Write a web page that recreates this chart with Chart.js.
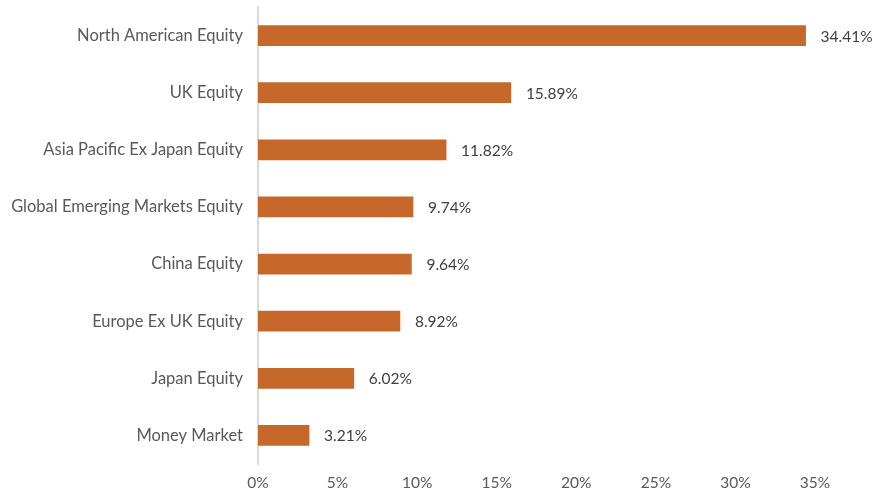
<!DOCTYPE html>
<html>
<head>
<meta charset="utf-8">
<script src="https://cdn.jsdelivr.net/npm/chart.js@4"></script>
<style>
  html, body { margin: 0; padding: 0; background: #fff; }
  #wrap { width: 875px; height: 493px; }
</style>
</head>
<body>
<div id="wrap"><canvas id="chart"></canvas></div>
<script>
// Asset allocation (% of portfolio)
const categories = [
  'North American Equity',
  'UK Equity',
  'Asia Pacific Ex Japan Equity',
  'Global Emerging Markets Equity',
  'China Equity',
  'Europe Ex UK Equity',
  'Japan Equity',
  'Money Market'
];
const weights = [34.41, 15.89, 11.82, 9.74, 9.64, 8.92, 6.02, 3.21];
const xTicks = [0, 5, 10, 15, 20, 25, 30, 35];

// draw the value label just past the end of each bar
const valueLabels = {
  id: 'valueLabels',
  afterDatasetsDraw(chart) {
    const ctx = chart.ctx;
    const meta = chart.getDatasetMeta(0);
    ctx.save();
    ctx.font = '15.5px Lato';
    ctx.fillStyle = '#404040';
    ctx.textBaseline = 'middle';
    meta.data.forEach((bar, i) => {
      ctx.fillText(weights[i].toFixed(2) + '%', bar.x + 15, bar.y + 1);
    });
    ctx.restore();
  }
};

const ctx = document.getElementById('chart').getContext('2d');
new Chart(ctx, {
  type: 'bar',
  data: {
    labels: categories,
    datasets: [
      {
        data: weights,
        backgroundColor: '#c5682a',
        borderWidth: 0,
        barThickness: 20,
      },
    ],
  },
  options: {
    indexAxis: 'y',
    responsive: true,
    maintainAspectRatio: false,
    animation: false,
    layout: {
      padding: { top: 7, right: 60, bottom: 0 },
    },
    plugins: {
      legend: { display: false },
      tooltip: { enabled: false },
    },
    scales: {
      x: {
        min: 0,
        max: 35,
        afterBuildTicks: (scale) => {
          scale.ticks = xTicks.map((v) => ({ value: v }));
        },
        afterFit: (scale) => {
          scale.height = 29;
        },
        grid: { display: false, drawTicks: false },
        border: { display: false },
        ticks: {
          color: '#595959',
          font: { family: 'Lato', size: 15.5 },
          padding: 10,
          callback: (v) => v + '%',
        },
      },
      y: {
        afterFit: (scale) => {
          scale.width = 258;
          scale.paddingTop = 0;
          scale.paddingBottom = 0;
        },
        grid: { display: false, drawTicks: false },
        border: { display: true, color: '#d9d9d9', width: 2 },
        ticks: {
          color: '#595959',
          font: { family: 'Lato', size: 16.5 },
          padding: 15,
        },
      },
    },
  },
  plugins: [valueLabels],
});
</script>
</body>
</html>
